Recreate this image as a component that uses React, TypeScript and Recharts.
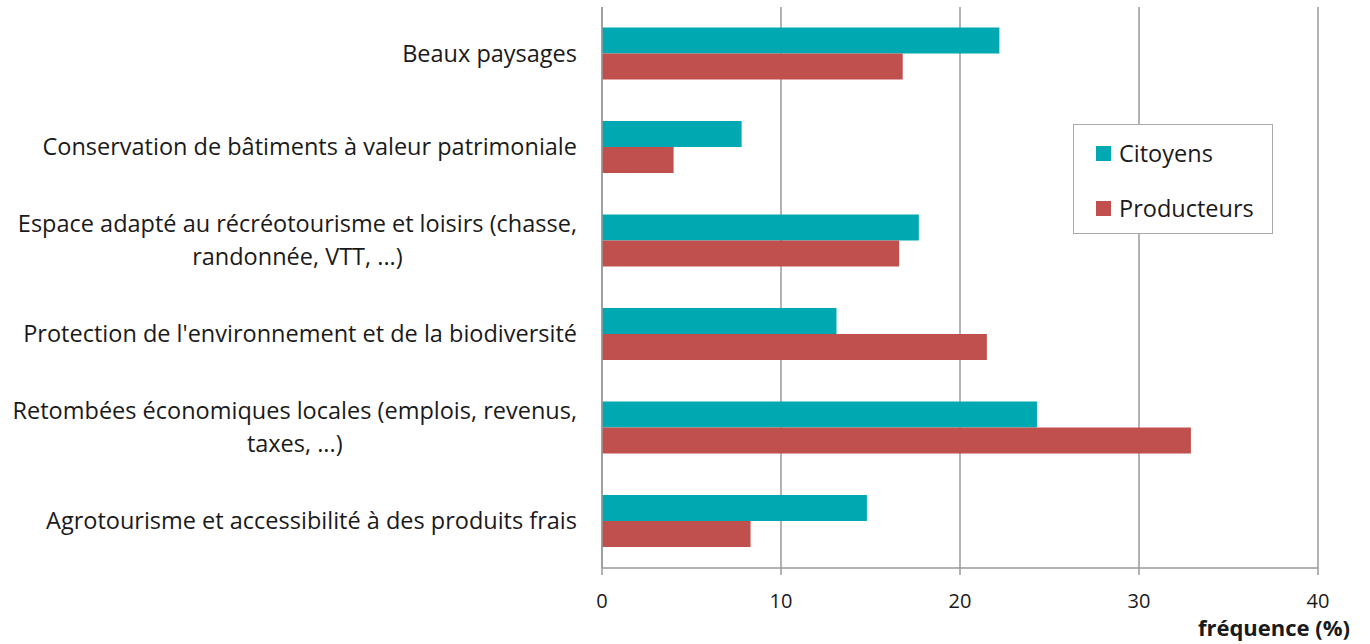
import React from 'react';
import { BarChart, Bar, XAxis, YAxis, CartesianGrid } from 'recharts';

const categories = [
  'Beaux paysages',
  'Conservation de bâtiments à valeur patrimoniale',
  'Espace adapté au récréotourisme et loisirs (chasse,\nrandonnée, VTT, ...)',
  "Protection de l'environnement et de la biodiversité",
  'Retombées économiques locales (emplois, revenus,\ntaxes, ...)',
  'Agrotourisme et accessibilité à des produits frais',
];
const citoyens = [22.2, 7.8, 17.7, 13.1, 24.3, 14.8];
const producteurs = [16.8, 4.0, 16.6, 21.5, 32.9, 8.3];
const xTicks = [0, 10, 20, 30, 40];
const seriesNames = ['Citoyens', 'Producteurs'];
const axisTitle = 'fréquence (%)';

const data = categories.map((name, i) => ({ name, Citoyens: citoyens[i], Producteurs: producteurs[i] }));

const FONT = '"Open Sans", Lato, sans-serif';
const FS = 23.5;
const TEAL = '#00A9B2';
const RED = '#C0504D';
const GRID = '#9a9a9a';
const COLORS = [TEAL, RED];

let ctx: CanvasRenderingContext2D | null = null;
function measure(t: string): number {
  if (!ctx) ctx = document.createElement('canvas').getContext('2d');
  if (!ctx) return t.length * 10;
  ctx.font = `${FS}px "Open Sans"`;
  return ctx.measureText(t).width;
}

const YTick = (props: any) => {
  const { x, y, payload } = props;
  const lines = String(payload.value).split('\n');
  if (lines.length === 1) {
    return (
      <text x={x} y={y} dy="0.35em" textAnchor="end" fontSize={FS} fontFamily={FONT} fill="#1a1a1a">
        {lines[0]}
      </text>
    );
  }
  const maxW = Math.max(...lines.map(measure));
  const cx = x - maxW / 2;
  const lh = 33;
  const start = y - ((lines.length - 1) * lh) / 2;
  return (
    <g>
      {lines.map((l, i) => (
        <text key={i} x={cx} y={start + i * lh} dy="0.35em" textAnchor="middle" fontSize={FS} fontFamily={FONT} fill="#1a1a1a">
          {l}
        </text>
      ))}
    </g>
  );
};

const AxisTitle = (props: any) => {
  const { viewBox } = props;
  return (
    <text
      x={viewBox.x + viewBox.width + 32}
      y={viewBox.y + 68}
      textAnchor="end"
      fontSize={22}
      fontWeight="bold"
      fontFamily={FONT}
      fill="#1a1a1a"
    >
      {axisTitle}
    </text>
  );
};

export default function App() {
  return (
    <div style={{ position: 'absolute', left: 0, top: 0, width: 1370, height: 644, background: '#fff' }}>
      <BarChart
        width={1370}
        height={644}
        data={data}
        layout="vertical"
        margin={{ top: 7, right: 52, bottom: 0, left: 0 }}
        barCategoryGap="22%"
        barGap={0}
      >
        <CartesianGrid horizontal={false} vertical stroke={GRID} strokeWidth={1.5} />
        <XAxis
          type="number"
          domain={[0, 40]}
          ticks={xTicks}
          height={76}
          tickSize={7}
          tickMargin={19}
          stroke={GRID}
          strokeWidth={1.5}
          tick={{ fill: '#1a1a1a', fontSize: 20, fontFamily: FONT }}
          label={<AxisTitle />}
        />
        <YAxis
          type="category"
          dataKey="name"
          width={602}
          tickLine={false}
          tickSize={0}
          tickMargin={25}
          stroke={GRID}
          strokeWidth={1.5}
          tick={<YTick />}
          interval={0}
        />
        <Bar dataKey="Citoyens" fill={TEAL} isAnimationActive={false} />
        <Bar dataKey="Producteurs" fill={RED} isAnimationActive={false} />
      </BarChart>
      <div
        style={{
          position: 'absolute',
          left: 1073,
          top: 124,
          width: 200,
          height: 110,
          border: '1.5px solid #aaaaaa',
          background: '#fff',
          boxSizing: 'border-box',
          fontFamily: FONT,
          fontSize: FS,
          color: '#1a1a1a',
        }}
      >
        {seriesNames.map((n, i) => (
          <div
            key={n}
            style={{ position: 'absolute', left: 22, top: 13 + i * 55, display: 'flex', alignItems: 'center', height: 30, whiteSpace: 'nowrap' }}
          >
            <span style={{ width: 15, height: 15, background: COLORS[i], display: 'inline-block', marginRight: 8 }} />
            <span>{n}</span>
          </div>
        ))}
      </div>
    </div>
  );
}
